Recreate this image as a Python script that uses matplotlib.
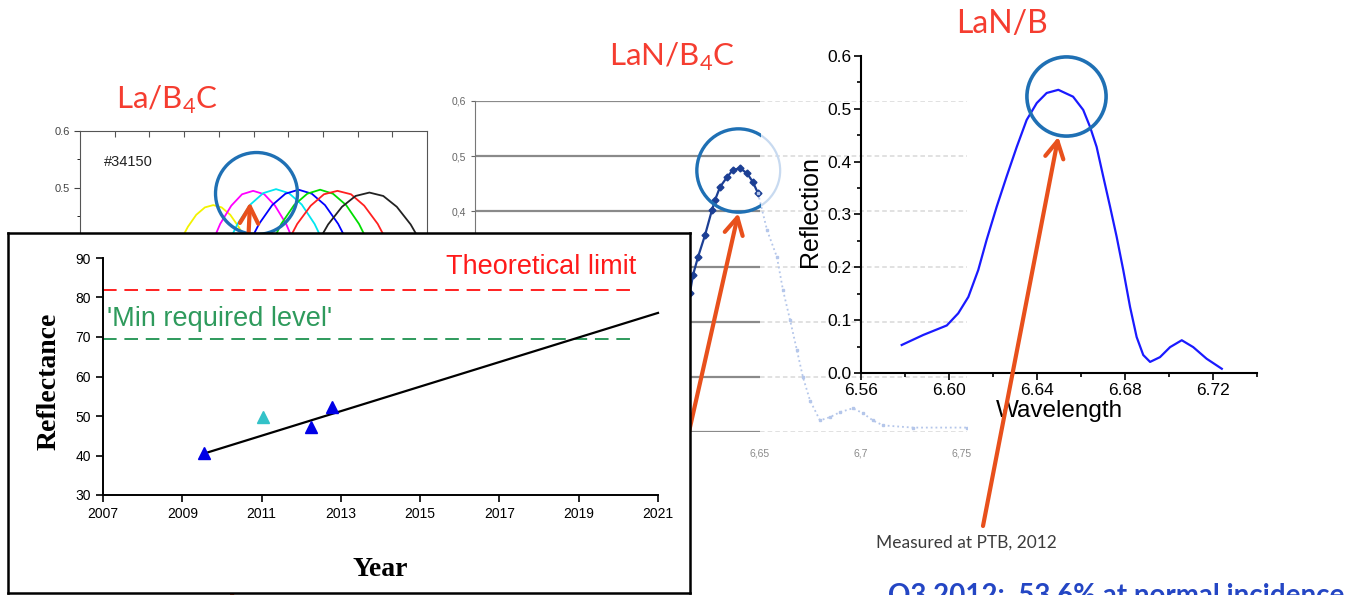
import matplotlib
matplotlib.use("Agg")
import matplotlib.pyplot as plt
import numpy as np
from matplotlib.patches import Rectangle
from matplotlib.ticker import MultipleLocator, FormatStrFormatter

plt.rcParams['font.family'] = ['Liberation Sans', 'DejaVu Sans']

# ---------------- data ----------------
# La/B4C angle scans (only the tops show above the inset)
la_x = [
    [2.90, 3.11, 3.35, 3.60, 3.84, 4.08, 4.33, 4.57, 4.78],
    [3.78, 4.04, 4.36, 4.67, 4.99, 5.31, 5.62, 5.94, 6.20],
    [4.24, 4.54, 4.91, 5.28, 5.65, 6.02, 6.39, 6.76, 7.06],
    [4.84, 5.16, 5.54, 5.92, 6.30, 6.68, 7.06, 7.44, 7.76],
    [5.49, 5.80, 6.17, 6.55, 6.92, 7.29, 7.67, 8.04, 8.35],
    [5.94, 6.26, 6.65, 7.03, 7.42, 7.81, 8.19, 8.58, 8.90],
    [6.82, 7.15, 7.55, 7.94, 8.34, 8.74, 9.13, 9.53, 9.86],
]
la_y = [
    [0.408, 0.432, 0.453, 0.466, 0.470, 0.466, 0.453, 0.432, 0.408],
    [0.400, 0.437, 0.469, 0.489, 0.495, 0.489, 0.469, 0.437, 0.400],
    [0.399, 0.437, 0.471, 0.491, 0.498, 0.491, 0.471, 0.437, 0.399],
    [0.399, 0.437, 0.470, 0.490, 0.497, 0.490, 0.470, 0.437, 0.399],
    [0.399, 0.437, 0.470, 0.490, 0.497, 0.490, 0.470, 0.437, 0.399],
    [0.400, 0.437, 0.469, 0.489, 0.495, 0.489, 0.469, 0.437, 0.400],
    [0.401, 0.436, 0.467, 0.486, 0.492, 0.486, 0.467, 0.436, 0.401],
]
la_colors = ['#f2f200', '#ff00ff', '#00e6f0', '#0000ff', '#00dd00', '#ff2020', '#222222']
la_yticks = [0.4, 0.5, 0.6]

# LaN/B4C reflectivity
lan4_wl = np.array([6.6153, 6.6168, 6.6193, 6.6228, 6.6262, 6.6277, 6.6302, 6.6337,
                    6.6366, 6.6401, 6.6436, 6.6465, 6.6490, 6.6535, 6.6584, 6.6614,
                    6.6649, 6.6683, 6.6713, 6.6748, 6.6797, 6.6847, 6.6896, 6.6960,
                    6.7010, 6.7059, 6.7109, 6.7257, 6.7525])
lan4_refl = np.array([0.252, 0.284, 0.317, 0.357, 0.402, 0.420, 0.444, 0.462,
                      0.475, 0.478, 0.469, 0.453, 0.433, 0.366, 0.317, 0.257,
                      0.203, 0.148, 0.099, 0.057, 0.021, 0.027, 0.036, 0.043,
                      0.034, 0.021, 0.012, 0.008, 0.008])
lan4_yticks = [0.0, 0.1, 0.2, 0.3, 0.4, 0.5, 0.6]
lan4_ylabels = ['', '', '', '', '0,4', '0,5', '0,6']  # lower ones sit under the inset
lan4_xticks = [6.65, 6.70, 6.75]
lan4_xlabels = ['6,65', '6,7', '6,75']
lan4_cut = 6.65  # right of this the LaN/B picture sits on top

# LaN/B reflectivity (PTB 2012)
lanb_wl = [6.5785, 6.5883, 6.5990, 6.6042, 6.6088, 6.6133, 6.6171, 6.6217,
           6.6262, 6.6308, 6.6353, 6.6399, 6.6444, 6.6497, 6.6564, 6.6610,
           6.6641, 6.6671, 6.6701, 6.6732, 6.6762, 6.6792, 6.6823, 6.6853,
           6.6883, 6.6914, 6.6959, 6.7005, 6.7058, 6.7110, 6.7171, 6.7240]
lanb_refl = [0.053, 0.072, 0.090, 0.113, 0.144, 0.195, 0.252, 0.315,
             0.372, 0.428, 0.479, 0.511, 0.530, 0.536, 0.523, 0.498,
             0.466, 0.428, 0.372, 0.315, 0.258, 0.195, 0.125, 0.068,
             0.034, 0.021, 0.030, 0.049, 0.062, 0.049, 0.027, 0.008]

# reflectance vs year (inset)
years_meas = [2009.55, 2012.25, 2012.78]
refl_meas = [40.6, 47.2, 52.3]
years_other = [2011.03]
refl_other = [49.8]
trend_years = [2009.55, 2021.0]
trend_refl = [40.5, 76.1]
theory_limit = 82
min_required = 69.5
ref_line_end = 2020.35
year_ticks = [2007, 2009, 2011, 2013, 2015, 2017, 2019, 2021]
refl_ticks = [30, 40, 50, 60, 70, 80, 90]

# ---------------- layout helpers (slide pixels) ----------------
W, H = 1347, 595


def box(l, t, r, b):
    return [l / W, 1 - b / H, (r - l) / W, (b - t) / H]


def fpx(x, y):
    return (x, H - y)


TITLE_RED = '#f53d30'
ARROW = '#e8501c'
RING = '#1f70b4'
arrow_kw = dict(arrowstyle='->,head_length=0.55,head_width=0.3', color=ARROW,
                lw=3, shrinkA=0, shrinkB=0, mutation_scale=22)

fig = plt.figure(figsize=(W / 100, H / 100), dpi=100)

# ---------------- La/B4C (background left) ----------------
ax_la = fig.add_axes(box(80, 131, 427, 359), zorder=1)
for c, xs, ys in zip(la_colors, la_x, la_y):
    ax_la.plot(xs, ys, color=c, lw=1.3)
ax_la.set_xlim(0, 10)
ax_la.set_ylim(0.2, 0.6)
ax_la.xaxis.tick_top()
ax_la.set_xticks(range(1, 10))
ax_la.tick_params(axis='x', direction='in', length=4, labeltop=False, color='#555555')
ax_la.set_yticks(la_yticks)
ax_la.set_yticklabels(['', '0.5', '0.6'])
ax_la.yaxis.set_minor_locator(MultipleLocator(0.05))
ax_la.tick_params(axis='y', length=4, labelsize=8, colors='#444444')
ax_la.tick_params(axis='y', which='minor', length=2.5)
ax_la.spines['bottom'].set_visible(False)
for s in ['left', 'top', 'right']:
    ax_la.spines[s].set_color('#555555')
ax_la.text(0.7, 0.545, '#34150', fontsize=10.5, color='#222222', va='center')
ax_la.plot(5.07, 0.492, 'o', ms=59, mfc='none', mec=RING, mew=2.4, clip_on=False)
ax_la.annotate('', xy=(4.90, 0.475), xycoords='data', xytext=fpx(232, 597),
               textcoords='figure pixels', arrowprops=arrow_kw, annotation_clip=False)

# ---------------- LaN/B4C (background middle) ----------------
ax_l4 = fig.add_axes(box(475, 101, 967, 432), zorder=2)
ax_l4.set_facecolor('none')
x0, x1 = 6.5089, 6.7525
ax_l4.set_xlim(x0, x1)
ax_l4.set_ylim(0, 0.6)
ax_l4.hlines(lan4_yticks, x0, lan4_cut, color='#8a8a8a', lw=1.6)
ax_l4.hlines(lan4_yticks, lan4_cut, x1, color='#d8d8d8', lw=1.1, linestyles=(0, (3, 2)))
dark = lan4_wl <= lan4_cut + 1e-9
fade = lan4_wl >= lan4_cut - 0.002
ax_l4.plot(lan4_wl[dark], lan4_refl[dark], color='#1c3f94', lw=1.6,
           marker='D', ms=3.5)
ax_l4.plot(lan4_wl[fade], lan4_refl[fade], color='#b4c6ea', lw=1.3, ls=':',
           marker='s', ms=2)
ax_l4.set_yticks(lan4_yticks)
ax_l4.set_yticklabels(lan4_ylabels)
ax_l4.set_xticks(lan4_xticks)
ax_l4.set_xticklabels(lan4_xlabels)
ax_l4.tick_params(axis='y', length=3, labelsize=7.5, colors='#666666')
ax_l4.tick_params(axis='x', length=0, labelsize=7.5, pad=12, labelcolor='#8a8a8a')
for s in ['top', 'right', 'bottom']:
    ax_l4.spines[s].set_visible(False)
ax_l4.spines['left'].set_color('#777777')
ax_l4.plot(6.6391, 0.475, 'o', ms=60, mfc='none', mec='#c8daf0', mew=1.6)
ring = ax_l4.plot(6.6391, 0.475, 'o', ms=60, mfc='none', mec=RING, mew=2.4)[0]
ring.set_clip_path(Rectangle((x0, 0), lan4_cut - x0, 0.6, transform=ax_l4.transData))
ax_l4.annotate('', xy=(6.6393, 0.3965), xycoords='data', xytext=fpx(660, 560),
               textcoords='figure pixels', arrowprops=arrow_kw, annotation_clip=False)

# ---------------- LaN/B (right) ----------------
ax_lb = fig.add_axes(box(861, 56, 1257, 373), zorder=3)
ax_lb.set_facecolor('none')
ax_lb.plot(lanb_wl, lanb_refl, color='#1a1aff', lw=1.6)
ax_lb.set_xlim(6.56, 6.74)
ax_lb.set_ylim(0, 0.6)
ax_lb.xaxis.set_major_locator(MultipleLocator(0.04))
ax_lb.xaxis.set_minor_locator(MultipleLocator(0.02))
ax_lb.yaxis.set_major_locator(MultipleLocator(0.1))
ax_lb.yaxis.set_minor_locator(MultipleLocator(0.05))
ax_lb.xaxis.set_major_formatter(FormatStrFormatter('%.2f'))
ax_lb.yaxis.set_major_formatter(FormatStrFormatter('%.1f'))
ax_lb.tick_params(which='major', length=5, width=1.2, labelsize=12.5, pad=2)
ax_lb.tick_params(which='minor', length=3, width=1.2)
for s in ['top', 'right']:
    ax_lb.spines[s].set_visible(False)
for s in ['left', 'bottom']:
    ax_lb.spines[s].set_linewidth(1.5)
ax_lb.set_ylabel('Reflection', fontsize=18)
ax_lb.yaxis.set_label_coords(-0.098, 0.51)
ax_lb.set_xlabel('Wavelength', fontsize=17.5)
ax_lb.xaxis.set_label_coords(0.5, -0.085)
ax_lb.plot(6.6532, 0.5245, 'o', ms=57, mfc='none', mec=RING, mew=2.6, clip_on=False)
ax_lb.annotate('', xy=(6.6497, 0.447), xycoords='data', xytext=fpx(983, 526),
               textcoords='figure pixels', arrowprops=arrow_kw, annotation_clip=False)

# ---------------- inset: reflectance vs year ----------------
ax_box = fig.add_axes(box(8, 233, 690, 593), zorder=10)
ax_box.set_xticks([])
ax_box.set_yticks([])
for s in ax_box.spines.values():
    s.set_linewidth(1.8)
    s.set_color('black')

ax_in = fig.add_axes(box(103, 258, 658, 495), zorder=11)
ax_in.set_facecolor('none')
ax_in.hlines(theory_limit, year_ticks[0], ref_line_end, color='#ff2020', lw=1.4,
             linestyles=(0, (7, 4)))
ax_in.hlines(min_required, year_ticks[0], ref_line_end, color='#2e9a5c', lw=1.4,
             linestyles=(0, (7, 4)))
ax_in.plot(trend_years, trend_refl, color='black', lw=1.6, clip_on=False)
ax_in.plot(years_meas, refl_meas, '^', color='#0000e6', ms=9, zorder=4)
ax_in.plot(years_other, refl_other, '^', color='#33c2c8', ms=8, zorder=4)
ax_in.text(2020.45, 87.6, 'Theoretical limit', color='#ff1a1a', fontsize=19.5,
           ha='right', va='center')
ax_in.text(2007.1, 74.5, "'Min required level'", color='#2e9a5c', fontsize=19.5,
           ha='left', va='center')
ax_in.set_xlim(year_ticks[0], year_ticks[-1])
ax_in.set_ylim(refl_ticks[0], refl_ticks[-1])
ax_in.set_xticks(year_ticks)
ax_in.set_yticks(refl_ticks)
ax_in.tick_params(length=5, width=1.2, labelsize=10, direction='out')
for s in ['top', 'right']:
    ax_in.spines[s].set_visible(False)
for s in ['left', 'bottom']:
    ax_in.spines[s].set_linewidth(1.4)
ax_in.set_ylabel('Reflectance', fontsize=20, fontweight='bold',
                 family=['Liberation Serif', 'DejaVu Serif'])
ax_in.yaxis.set_label_coords(-0.075, 0.48)
ax_in.set_xlabel('Year', fontsize=20, fontweight='bold',
                 family=['Liberation Serif', 'DejaVu Serif'])
ax_in.xaxis.set_label_coords(0.499, -0.26)

# ---------------- slide titles and notes ----------------
fig.text(167 / W, 1 - 100 / H, r'La/B$_\mathregular{4}$C', color=TITLE_RED,
         fontsize=22.5, family='Lato', ha='center', va='center')
fig.text(672 / W, 1 - 57 / H, r'LaN/B$_\mathregular{4}$C', color=TITLE_RED,
         fontsize=22.5, family='Lato', ha='center', va='center')
fig.text(1002 / W, 1 - 24 / H, 'LaN/B', color=TITLE_RED,
         fontsize=23, family='Lato', ha='center', va='center')
fig.text(966 / W, 1 - 543 / H, 'Measured at PTB, 2012', color='#3c3c3c',
         fontsize=12.5, family='Lato', ha='center', va='center')
fig.text(888 / W, 1 - 583 / H, 'Q3 2012:  53.6% at normal incidence', color='#2446c4',
         fontsize=20, family='Lato', fontweight='bold', ha='left', va='top')

fig.savefig('out.png', dpi=100)
